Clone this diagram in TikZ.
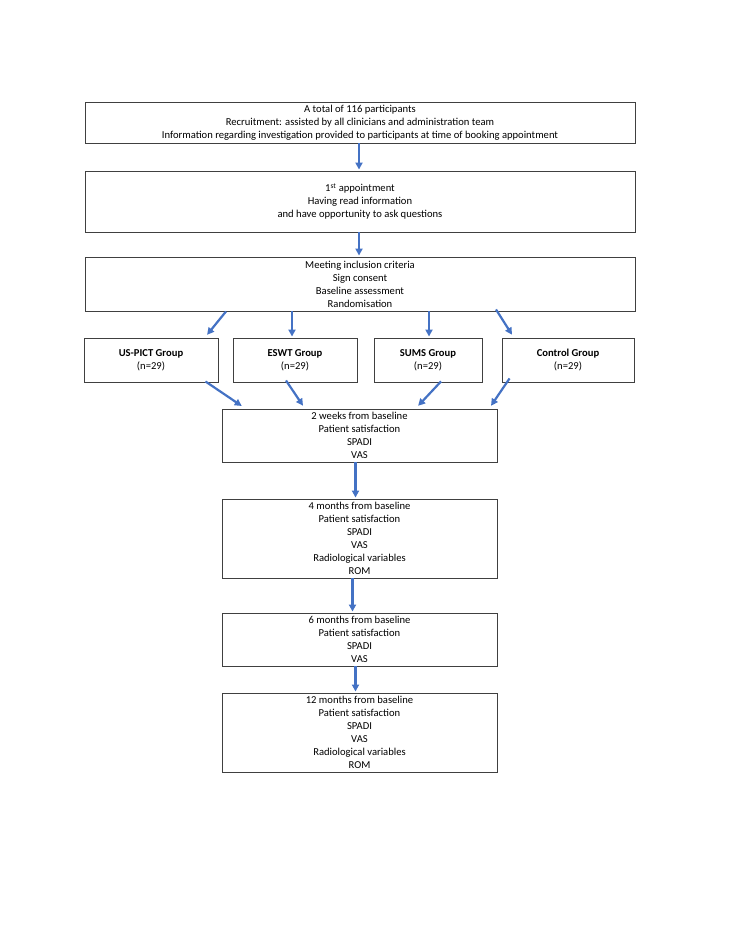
\documentclass[tikz,border=0pt]{standalone}
\usepackage{fontspec}
\setmainfont{Carlito}
\usepackage{tikz}
\usetikzlibrary{arrows.meta}
\definecolor{flowblue}{HTML}{4472C4}
\definecolor{boxline}{HTML}{404040}
\tikzset{
  fbox/.style={draw=boxline, line width=0.9pt, inner sep=0pt, align=center,
               font=\fontsize{10.6}{13}\selectfont,
               execute at begin node={\rule{0pt}{12.5pt}}},
  farr/.style={-{Triangle[length=7pt,width=7pt]}, line width=2.2pt, flowblue, shorten >=1pt},
}

\begin{document}
\begin{tikzpicture}[x=1pt,y=-1pt]
  \useasboundingbox (0,0) rectangle (728,942);
  \node[fbox,minimum width=550,minimum height=41] (total) at (360,122.5)
    {A total of 116 participants\\Recruitment: assisted by all clinicians and administration team\\Information regarding investigation provided to participants at time of booking appointment};
  \node[fbox,minimum width=550,minimum height=61] (appt) at (360,201.5)
    {1\textsuperscript{st} appointment\\Having read information\\and have opportunity to ask questions};
  \node[fbox,minimum width=550,minimum height=54] (rand) at (360,284)
    {Meeting inclusion criteria\\Sign consent\\Baseline assessment\\Randomisation};
  % groups
  \node[fbox,minimum width=134,minimum height=44] (pict) at (151,360) {\textbf{US-PICT Group}\\(n=29)};
  \node[fbox,minimum width=124,minimum height=44] (eswt) at (295,360) {\textbf{ESWT Group}\\(n=29)};
  \node[fbox,minimum width=108,minimum height=44] (sums) at (428,360) {\textbf{SUMS Group}\\(n=29)};
  \node[fbox,minimum width=132,minimum height=44] (ctrl) at (568,360) {\textbf{Control Group}\\(n=29)};
  % follow-up
  \node[fbox,minimum width=275,minimum height=53] (wk2) at (359.5,435.5)
    {2 weeks from baseline\\Patient satisfaction\\SPADI\\VAS};
  \node[fbox,minimum width=275,minimum height=79] (m4) at (359.5,538.5)
    {4 months from baseline\\Patient satisfaction\\SPADI\\VAS\\Radiological variables\\ROM};
  \node[fbox,minimum width=275,minimum height=53] (m6) at (359.5,639.5)
    {6 months from baseline\\Patient satisfaction\\SPADI\\VAS};
  \node[fbox,minimum width=275,minimum height=79] (m12) at (359.5,732.5)
    {12 months from baseline\\Patient satisfaction\\SPADI\\VAS\\Radiological variables\\ROM};

  \draw[farr] ([xshift=-1]total.south) -- ([xshift=-1]appt.north);
  \draw[farr] ([xshift=-1]appt.south) -- ([xshift=-1]rand.north);
  \draw[farr] ([xshift=-134]rand.south) -- ([xshift=-12,yshift=2]pict.north east);
  \draw[farr] ([xshift=-68]rand.south) -- ([xshift=-3]eswt.north);
  \draw[farr] ([xshift=69]rand.south) -- ([xshift=1]sums.north);
  \draw[farr] ([xshift=136,yshift=2]rand.south) -- ([xshift=11,yshift=2]ctrl.north west);
  \draw[farr] ([xshift=-13,yshift=1]pict.south east) -- ([xshift=21,yshift=2]wk2.north west);
  \draw[farr] ([xshift=-9,yshift=2]eswt.south) -- ([xshift=82,yshift=2]wk2.north west);
  \draw[farr] ([xshift=13,yshift=1]sums.south) -- ([xshift=-80,yshift=2]wk2.north east);
  \draw[farr] ([xshift=8,yshift=4]ctrl.south west) -- ([xshift=-7,yshift=2]wk2.north east);
  \draw[farr] ([xshift=-4]wk2.south) -- ([xshift=-4]m4.north);
  \draw[farr] ([xshift=-7]m4.south) -- ([xshift=-7]m6.north);
  \draw[farr] ([xshift=-4]m6.south) -- ([xshift=-4]m12.north);
\end{tikzpicture}
\end{document}
